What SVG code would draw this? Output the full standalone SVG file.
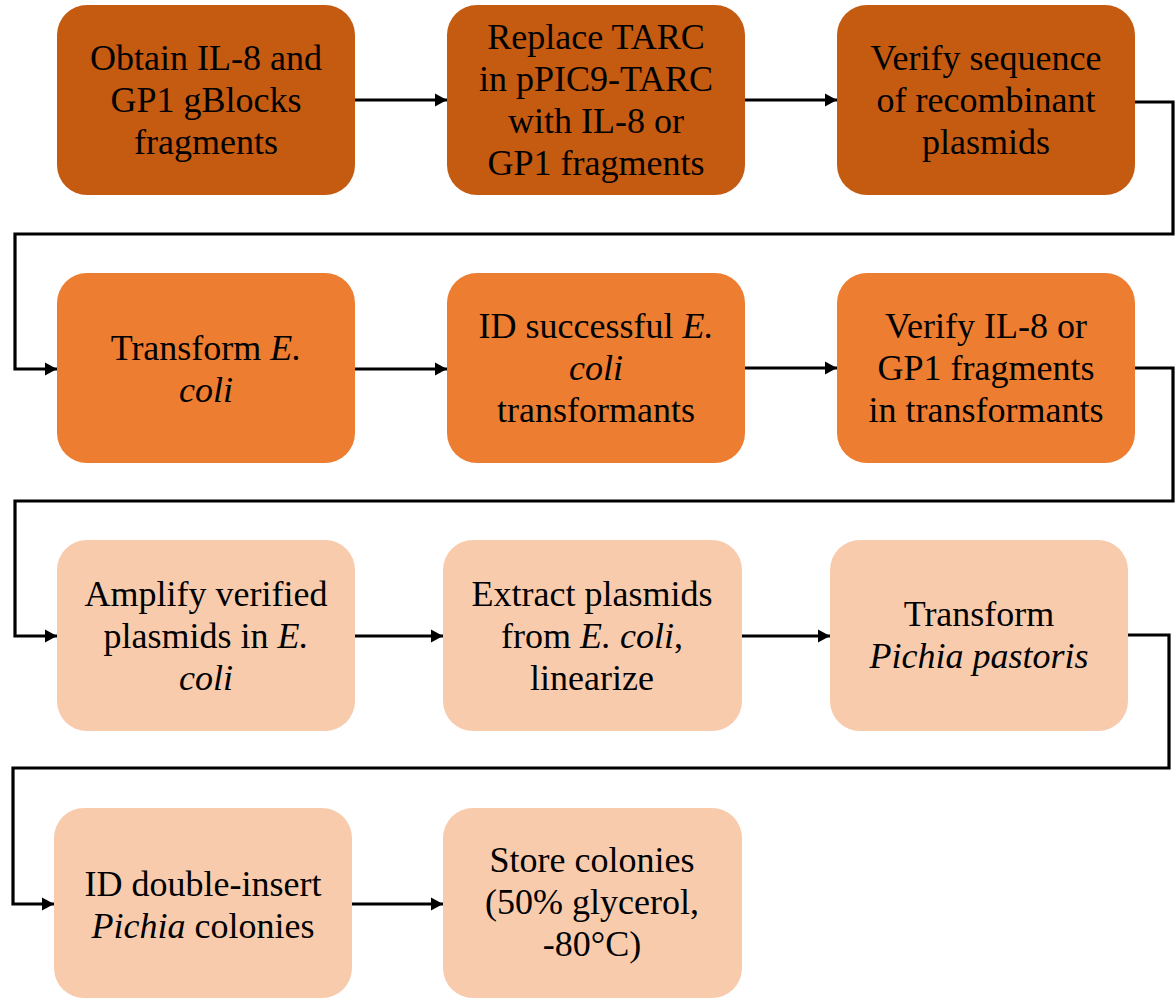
<svg xmlns="http://www.w3.org/2000/svg" width="1176" height="998" viewBox="0 0 1176 998">
<style>
text{font-family:'Liberation Serif','Times New Roman',Times,'DejaVu Serif Condensed','DejaVu Serif',serif;font-size:36px;fill:#000;text-anchor:middle}
.i{font-style:italic}
.r1{fill:#C55A11}
.r2{fill:#ED7D31}
.r3{fill:#F8CBAD}
.c{fill:none;stroke:#000;stroke-width:3.2;marker-end:url(#ah)}
</style>
<defs>
<marker id="ah" markerUnits="userSpaceOnUse" markerWidth="14" markerHeight="14" refX="12" refY="7" orient="auto">
<path d="M0,0.5 L12,7 L0,13.5 Z" fill="#000"/>
</marker>
</defs>
<rect width="1176" height="998" fill="#fff"/>
<g id="connectors">
<path class="c" d="M355,100 H447"/>
<path class="c" d="M745,100 H837"/>
<path class="c" d="M1135,102 H1173 V234 H15 V369 H57"/>
<path class="c" d="M355,369 H447"/>
<path class="c" d="M745,368 H837"/>
<path class="c" d="M1135,368 H1173 V501 H15 V636 H57"/>
<path class="c" d="M355,636 H443"/>
<path class="c" d="M742,636 H830"/>
<path class="c" d="M1128,635 H1169 V768 H13 V904 H54"/>
<path class="c" d="M352,904 H443"/>
</g>
<g id="n1"><rect class="r1" x="57" y="5" width="298" height="190" rx="30"/>
<text x="206" y="70">Obtain IL-8 and</text><text x="206" y="112">GP1 gBlocks</text><text x="206" y="154">fragments</text></g>
<g id="n2"><rect class="r1" x="447" y="5" width="298" height="190" rx="30"/>
<text x="596" y="49">Replace TARC</text><text x="596" y="91">in pPIC9-TARC</text><text x="596" y="133">with IL-8 or</text><text x="596" y="175">GP1 fragments</text></g>
<g id="n3"><rect class="r1" x="837" y="5" width="298" height="190" rx="30"/>
<text x="986" y="70">Verify sequence</text><text x="986" y="112">of recombinant</text><text x="986" y="154">plasmids</text></g>
<g id="n4"><rect class="r2" x="57" y="273" width="298" height="190" rx="30"/>
<text x="206" y="360">Transform <tspan class="i">E.</tspan></text><text class="i" x="206" y="402">coli</text></g>
<g id="n5"><rect class="r2" x="447" y="273" width="298" height="190" rx="30"/>
<text x="596" y="338">ID successful <tspan class="i">E.</tspan></text><text class="i" x="596" y="380">coli</text><text x="596" y="422">transformants</text></g>
<g id="n6"><rect class="r2" x="837" y="273" width="298" height="190" rx="30"/>
<text x="986" y="338">Verify IL-8 or</text><text x="986" y="380">GP1 fragments</text><text x="986" y="422">in transformants</text></g>
<g id="n7"><rect class="r3" x="57" y="540" width="298" height="191" rx="30"/>
<text x="206" y="606">Amplify verified</text><text x="206" y="648">plasmids in <tspan class="i">E.</tspan></text><text class="i" x="206" y="690">coli</text></g>
<g id="n8"><rect class="r3" x="443" y="540" width="299" height="191" rx="30"/>
<text x="592" y="606">Extract plasmids</text><text x="592" y="648">from <tspan class="i">E. coli</tspan>,</text><text x="592" y="690">linearize</text></g>
<g id="n9"><rect class="r3" x="830" y="540" width="298" height="191" rx="30"/>
<text x="979" y="626">Transform</text><text class="i" x="979" y="668">Pichia pastoris</text></g>
<g id="n10"><rect class="r3" x="54" y="808" width="298" height="190" rx="30"/>
<text x="203" y="896">ID double-insert</text><text x="203" y="938"><tspan class="i">Pichia</tspan> colonies</text></g>
<g id="n11"><rect class="r3" x="443" y="808" width="299" height="190" rx="30"/>
<text x="592" y="872">Store colonies</text><text x="592" y="914">(50% glycerol,</text><text x="592" y="956">-80°C)</text></g>
</svg>
